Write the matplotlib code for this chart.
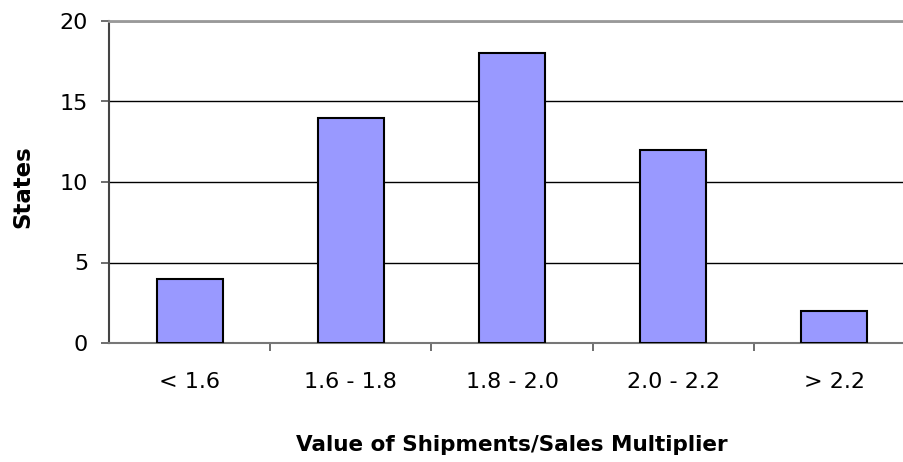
import matplotlib
matplotlib.use("Agg")
import matplotlib.pyplot as plt
import numpy as np

# data
categories = ["< 1.6", "1.6 - 1.8", "1.8 - 2.0", "2.0 - 2.2", "> 2.2"]
states = [4, 14, 18, 12, 2]

plt.rcParams["font.family"] = ["DejaVu Sans"]

fig = plt.figure(figsize=(9.04, 4.62), dpi=100)
ax = fig.add_axes([109 / 904, 1 - 343 / 462, 806 / 904, 322 / 462])

x = np.arange(len(categories))
ax.bar(x, states, width=0.41, color="#9999FF", edgecolor="black", linewidth=1.5, zorder=3)

ax.set_xlim(-0.5, len(categories) - 0.5)
ax.set_ylim(0, 20)
ax.set_yticks([0, 5, 10, 15, 20])
ax.yaxis.grid(True, color="black", linewidth=1.0, zorder=0)

# category labels at centres, tick marks at boundaries
ax.set_xticks(x)
ax.set_xticklabels(categories)
ax.set_xticks(np.arange(0.5, len(categories) - 0.5), minor=True)
ax.tick_params(axis="x", which="major", length=0, pad=21, labelsize=16)
ax.tick_params(axis="x", which="minor", length=6, width=1.2, color="#555555")
ax.tick_params(axis="y", length=6, width=1.2, color="#555555", pad=9, labelsize=16)

ax.spines["right"].set_visible(False)
ax.spines["top"].set_color("#999999")
ax.spines["top"].set_linewidth(2)
ax.spines["left"].set_color("#444444")
ax.spines["left"].set_linewidth(1.5)
ax.spines["bottom"].set_color("#777777")
ax.spines["bottom"].set_linewidth(1.5)

ax.set_ylabel("States", fontsize=16.5, fontweight="bold")
ax.yaxis.set_label_coords(-0.093, 0.485)
ax.set_xlabel("Value of Shipments/Sales Multiplier", fontsize=15.5, fontweight="bold")
ax.xaxis.set_label_coords(0.5, -0.285)

fig.savefig("out.png", dpi=100)
